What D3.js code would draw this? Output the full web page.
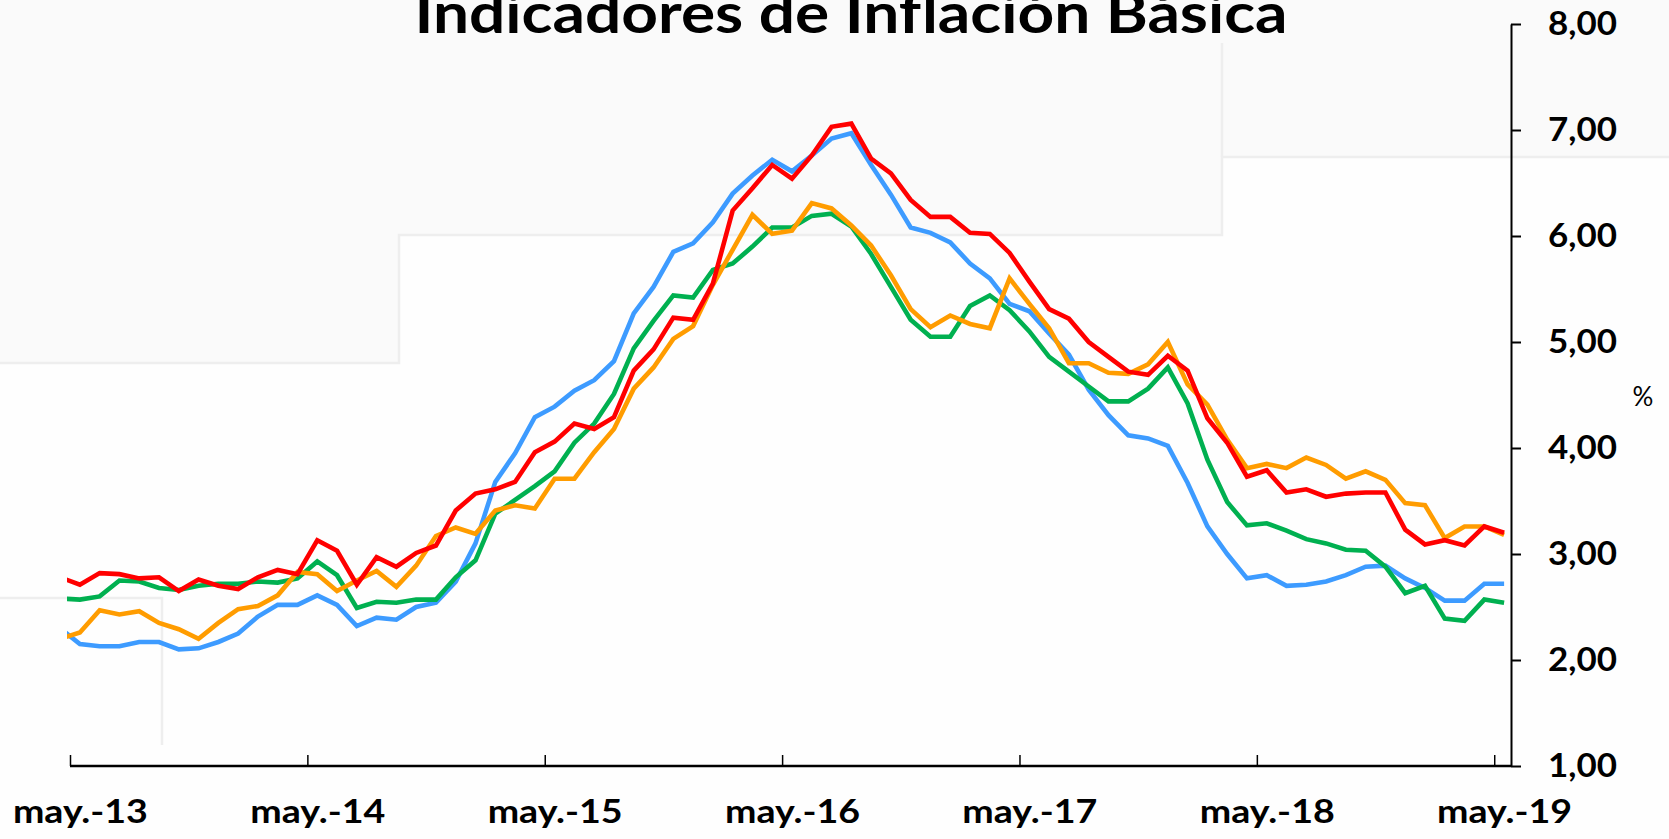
<!DOCTYPE html>
<html>
<head>
<meta charset="utf-8">
<script src="https://cdn.jsdelivr.net/npm/d3@7"></script>
<style>
  html, body { margin: 0; padding: 0; background: #fafafa; }
  svg { display: block; font-family: Lato, "Open Sans", sans-serif; }
</style>
</head>
<body>
<svg id="chart"></svg>
<script>
// monthly categories, abr.-13 (partly hidden at the left edge) to may.-19
var monthNames = ["ene.", "feb.", "mar.", "abr.", "may.", "jun.", "jul.", "ago.", "sep.", "oct.", "nov.", "dic."];
var categories = [];
for (var k = 0; k < 74; k++) {
  var m = (3 + k) % 12, yr = 13 + Math.floor((3 + k) / 12);
  categories.push(monthNames[m] + "-" + yr);
}

var tickLabels = ["may.-13", "may.-14", "may.-15", "may.-16", "may.-17", "may.-18", "may.-19"];
var yTicks = [1, 2, 3, 4, 5, 6, 7, 8];

var serieRoja = [2.78, 2.71, 2.82, 2.81, 2.77, 2.78, 2.65, 2.76, 2.70, 2.67, 2.78, 2.85, 2.81,
  3.13, 3.03, 2.71, 2.97, 2.88, 3.01, 3.08, 3.41, 3.57, 3.61, 3.68, 3.96, 4.06,
  4.23, 4.18, 4.29, 4.73, 4.93, 5.23, 5.21, 5.55, 6.24, 6.45, 6.67, 6.54, 6.76,
  7.03, 7.06, 6.73, 6.59, 6.34, 6.18, 6.18, 6.03, 6.02, 5.84, 5.57, 5.31, 5.22,
  5.00, 4.86, 4.72, 4.69, 4.87, 4.73, 4.28, 4.05, 3.73, 3.79, 3.58, 3.61, 3.54,
  3.57, 3.58, 3.58, 3.23, 3.09, 3.13, 3.08, 3.26, 3.20];

var serieNaranja = [2.20, 2.26, 2.47, 2.43, 2.46, 2.35, 2.29, 2.20, 2.35, 2.48, 2.51, 2.61, 2.83,
  2.81, 2.65, 2.75, 2.84, 2.69, 2.89, 3.17, 3.25, 3.19, 3.41, 3.46, 3.43, 3.71,
  3.71, 3.96, 4.18, 4.56, 4.76, 5.03, 5.15, 5.54, 5.87, 6.20, 6.02, 6.05, 6.31,
  6.26, 6.10, 5.91, 5.63, 5.31, 5.14, 5.25, 5.17, 5.13, 5.60, 5.36, 5.13, 4.80,
  4.80, 4.71, 4.70, 4.79, 5.00, 4.60, 4.41, 4.08, 3.81, 3.85, 3.81, 3.91, 3.84,
  3.71, 3.78, 3.70, 3.48, 3.46, 3.15, 3.26, 3.26, 3.18];

var serieAzul = [2.30, 2.15, 2.13, 2.13, 2.17, 2.17, 2.10, 2.11, 2.17, 2.25, 2.41, 2.52, 2.52,
  2.61, 2.52, 2.32, 2.40, 2.38, 2.50, 2.54, 2.74, 3.10, 3.68, 3.95, 4.29, 4.39,
  4.54, 4.64, 4.82, 5.27, 5.52, 5.85, 5.93, 6.13, 6.40, 6.57, 6.72, 6.61, 6.76,
  6.92, 6.97, 6.67, 6.39, 6.08, 6.03, 5.94, 5.74, 5.60, 5.36, 5.29, 5.08, 4.88,
  4.55, 4.31, 4.12, 4.09, 4.02, 3.67, 3.26, 3.00, 2.77, 2.80, 2.70, 2.71, 2.74,
  2.80, 2.88, 2.89, 2.77, 2.68, 2.56, 2.56, 2.72, 2.72];

var serieVerde = [2.58, 2.57, 2.60, 2.75, 2.74, 2.68, 2.66, 2.70, 2.72, 2.72, 2.74, 2.73, 2.77,
  2.93, 2.80, 2.49, 2.55, 2.54, 2.57, 2.57, 2.78, 2.94, 3.38, 3.51, 3.64, 3.78,
  4.05, 4.23, 4.51, 4.94, 5.20, 5.44, 5.42, 5.68, 5.74, 5.90, 6.08, 6.08, 6.19,
  6.21, 6.09, 5.83, 5.52, 5.21, 5.05, 5.05, 5.34, 5.44, 5.30, 5.10, 4.86, 4.72,
  4.58, 4.44, 4.44, 4.56, 4.76, 4.42, 3.89, 3.49, 3.27, 3.29, 3.22, 3.14, 3.10,
  3.04, 3.03, 2.88, 2.63, 2.70, 2.39, 2.37, 2.57, 2.54];

var W = 1669, H = 839;
var svg = d3.select("#chart").attr("width", W).attr("height", H);

// faint staircase in the background picture
svg.append("rect").attr("width", W).attr("height", H).attr("fill", "#fafafa");
svg.append("path")
  .attr("d", "M0,363 H399 V235 H1222 V157 H1669 V839 H0 Z")
  .attr("fill", "#fefefe");
var steps = ["M0,363 H399 V235 H1222 V157 H1669", "M1222,157 V43",
  "M0,598 H162 V745"];
steps.forEach(function(d) {
  svg.append("path").attr("d", d).attr("fill", "none")
    .attr("stroke", "#eeeeee").attr("stroke-width", 2.5);
});

// index -1 = abr.-13, 0 = may.-13 ... 72 = may.-19
var x = d3.scaleLinear().domain([-0.5, 72.5]).range([70, 1514]);
var y = d3.scaleLinear().domain([1, 8]).range([766, 24]);
var axisX = 1511;

svg.append("text")
  .attr("x", 851).attr("y", 33)
  .attr("text-anchor", "middle")
  .attr("font-size", 56).attr("font-weight", "bold")
  .attr("textLength", 873).attr("lengthAdjust", "spacingAndGlyphs")
  .attr("fill", "#000")
  .text("Indicadores de Inflación Básica");

svg.append("clipPath").attr("id", "plot")
  .append("rect").attr("x", 67).attr("y", 0).attr("width", axisX - 67).attr("height", 766);

var series = [
  { values: serieAzul, color: "#3d9bff" },
  { values: serieVerde, color: "#00b050" },
  { values: serieNaranja, color: "#ff9c00" },
  { values: serieRoja, color: "#ff0000" }
];

var line = d3.line()
  .x(function(d, i) { return x(i - 1); })
  .y(function(d) { return y(d); });

svg.append("g").attr("clip-path", "url(#plot)")
  .selectAll("path")
  .data(series)
  .enter().append("path")
  .attr("d", function(s) { return line(s.values); })
  .attr("fill", "none")
  .attr("stroke", function(s) { return s.color; })
  .attr("stroke-width", 4.6)
  .attr("stroke-linejoin", "miter");

// x axis: ticks at year boundaries, labels centred on the may. category
var gx = svg.append("g")
  .attr("transform", "translate(0,766)")
  .call(d3.axisBottom(x)
    .tickValues(d3.range(0, 73, 12).map(function(v) { return v - 0.5; }))
    .tickSizeInner(-11).tickSizeOuter(0).tickFormat(""));
gx.select(".domain").remove();
gx.append("line").attr("x1", x(-0.5)).attr("x2", axisX)
  .attr("stroke", "#000").attr("stroke-width", 2.5);
gx.selectAll(".tick line").attr("stroke", "#000").attr("stroke-width", 1.5);

var gxl = svg.append("g")
  .attr("transform", "translate(0,766)")
  .call(d3.axisBottom(x).tickValues(d3.range(0, 73, 12))
    .tickSize(0).tickPadding(34)
    .tickFormat(function(v) { return tickLabels[v / 12]; }));
gxl.select(".domain").remove();
gxl.selectAll("text")
  .attr("font-family", "Lato, sans-serif")
  .attr("font-size", 33).attr("font-weight", "bold").attr("fill", "#000")
  .attr("textLength", 135).attr("lengthAdjust", "spacingAndGlyphs");

// y axis on the right
var gy = svg.append("g")
  .attr("transform", "translate(" + axisX + ",0)")
  .call(d3.axisRight(y).tickValues(yTicks)
    .tickSizeInner(10).tickSizeOuter(0).tickPadding(27)
    .tickFormat(function(d) { return d3.format(".2f")(d).replace(".", ","); }));
gy.select(".domain").attr("stroke", "#000").attr("stroke-width", 2);
gy.selectAll(".tick line").attr("stroke", "#000").attr("stroke-width", 2);
gy.selectAll("text")
  .attr("font-family", "Lato, sans-serif")
  .attr("font-size", 33).attr("font-weight", "bold").attr("fill", "#000")
  .attr("textLength", 69).attr("lengthAdjust", "spacingAndGlyphs");

svg.append("text")
  .attr("x", 1643).attr("y", 397).attr("dy", "0.35em")
  .attr("text-anchor", "middle")
  .attr("font-size", 26).attr("fill", "#000")
  .text("%");
</script>
</body>
</html>
